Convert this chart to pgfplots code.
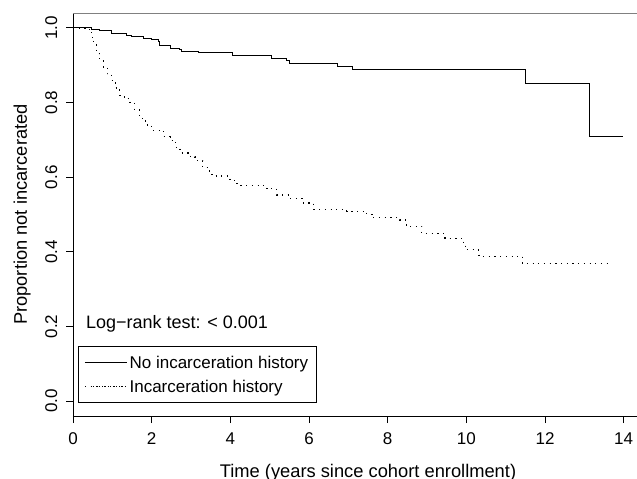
\documentclass[border=0pt]{standalone}
\usepackage{pgfplots}
\pgfplotsset{compat=1.18}
\usepackage{fontspec}
\setmainfont{Liberation Sans}

% Kaplan-Meier step curves
\pgfplotstableread{
t s
0 1.0
0.47 0.997
0.67 0.993
0.98 0.985
1.36 0.981
1.49 0.977
1.79 0.972
2.00 0.968
2.17 0.963
2.21 0.954
2.47 0.946
2.72 0.941
2.76 0.937
3.19 0.934
4.06 0.925
5.05 0.919
5.43 0.912
5.50 0.905
6.72 0.897
7.10 0.889
11.50 0.851
13.13 0.710
13.99 0.710
}\noincarc
\pgfplotstableread{
t s
0 1.0
0.41 0.99
0.47 0.975
0.53 0.955
0.60 0.931
0.68 0.912
0.77 0.895
0.87 0.877
0.98 0.859
1.08 0.839
1.19 0.819
1.30 0.810
1.45 0.801
1.57 0.780
1.70 0.757
1.85 0.740
2.00 0.726
2.30 0.708
2.47 0.699
2.60 0.680
2.72 0.665
2.98 0.654
3.10 0.645
3.30 0.625
3.48 0.607
3.57 0.603
3.99 0.592
4.16 0.583
4.25 0.578
4.92 0.569
5.18 0.552
5.52 0.543
5.86 0.531
6.11 0.514
6.96 0.509
7.47 0.500
7.60 0.491
8.31 0.485
8.48 0.468
8.87 0.449
9.46 0.436
9.92 0.424
9.97 0.406
10.31 0.402
10.32 0.388
11.43 0.368
13.61 0.368
}\incarc

\begin{document}
\fontsize{17bp}{20bp}\selectfont
\begin{tikzpicture}
\begin{axis}[
  scale only axis,
  width=590bp, height=403bp,
  xmin=0, xmax=15, ymin=-0.04, ymax=1.04,
  axis x line*=bottom, axis y line*=left,
  axis line style={line width=0.9bp},
  tick align=outside, major tick length=7bp,
  tick style={line width=0.9bp, black},
  xtick={0,2,...,14},
  ytick={0,0.2,...,1.0},
  yticklabels={0.0,0.2,0.4,0.6,0.8,1.0},
  /pgf/number format/assume math mode=true,
  xticklabel style={yshift=-3.5bp},
  yticklabel style={xshift=-1.5bp, rotate=90, anchor=south, inner sep=7bp},
  xlabel={Time (years since cohort enrollment)},
  ylabel={Proportion not incarcerated},
  label style={font=\fontsize{18.3bp}{21bp}\selectfont},
  xlabel style={at={(axis description cs:0.5,0)}, anchor=base, yshift=-61bp},
  ylabel style={at={(axis description cs:0,0.5)}, anchor=base, yshift=46bp},
  legend style={at={(axis cs:0.127,0.1486)}, anchor=north west, draw=black,
    line width=0.8bp, inner xsep=6bp, inner ysep=8bp, row sep=7.8bp,
    nodes={inner sep=2bp, text depth=0bp},
    font=\fontsize{17bp}{20bp}\selectfont},
  legend cell align=left,
  legend image code/.code={\path (0bp,0bp) -- (42bp,0bp); \draw[#1] (8bp,0bp) -- (38bp,0bp);},
]
\addplot[const plot, black, line width=1bp] table[x=t,y=s] {\noincarc};
\addlegendentry{No incarceration history}
\addplot[const plot, black, line width=1.2bp, dash pattern=on 1.2bp off 4.5bp] table[x=t,y=s] {\incarc};
\addlegendentry{Incarceration history}
\draw[gray, line width=0.9bp] (rel axis cs:0,1) -- (rel axis cs:1,1);
\node[anchor=west, inner sep=0pt, font=\fontsize{18bp}{21bp}\selectfont] at (axis cs:0.33,0.206) {Log−rank test: < 0.001};
\end{axis}
\pgfresetboundingbox
\path[use as bounding box] ([xshift=-73bp,yshift=-63bp]current axis.south west) rectangle ([xshift=564bp,yshift=416bp]current axis.south west);
\end{tikzpicture}
\end{document}
